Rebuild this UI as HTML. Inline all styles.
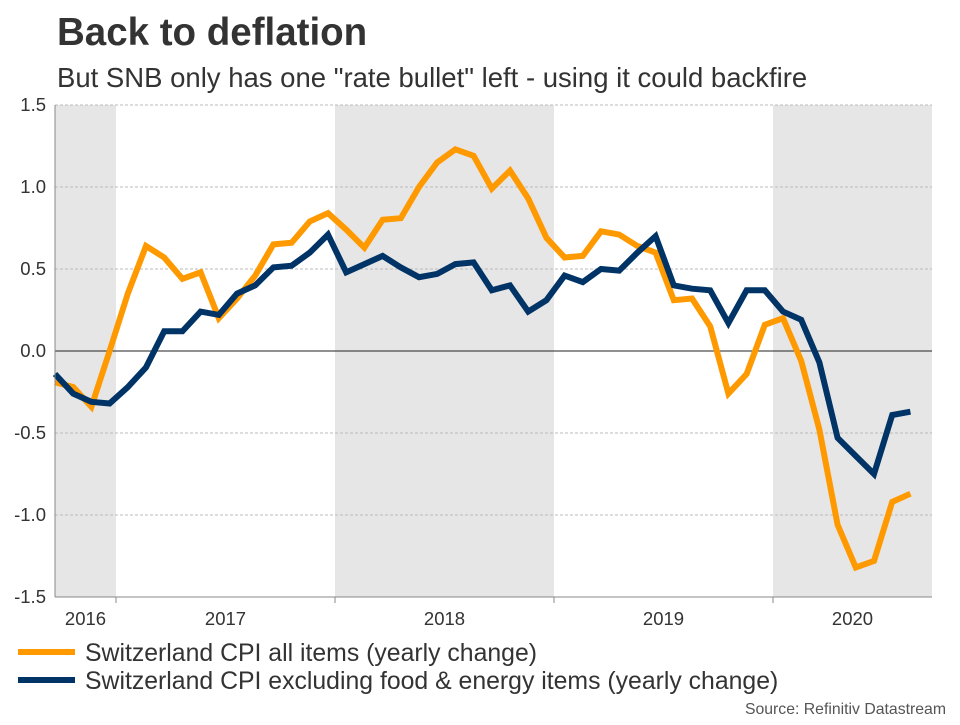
<!DOCTYPE html>
<html><head><meta charset="utf-8">
<style>
body{margin:0;background:#fff;}
svg text{font-family:"Liberation Sans",sans-serif;}
</style></head>
<body>
<svg width="960" height="720" xmlns="http://www.w3.org/2000/svg">
<text x="57" y="45" font-size="38.5" font-weight="bold" fill="#333">Back to deflation</text>
<text x="57" y="87" font-size="27.5" fill="#333">But SNB only has one "rate bullet" left - using it could backfire</text>
<g id="bands"></g>
<g id="grid"></g>
<g id="lines"></g>
<g id="axes"></g>
<g>
<line x1="18" y1="652" x2="75" y2="652" stroke="#FF9900" stroke-width="6"/>
<text x="85" y="661" font-size="24.8" fill="#333">Switzerland CPI all items (yearly change)</text>
<line x1="18" y1="680" x2="75" y2="680" stroke="#003366" stroke-width="6"/>
<text x="85" y="689" font-size="24.8" fill="#333">Switzerland CPI excluding food &amp; energy items (yearly change)</text>
</g>
<text x="946" y="714" font-size="15.8" fill="#555" text-anchor="end">Source: Refinitiv Datastream</text>
</svg>
<script>
const cpiAll = [-0.19,-0.22,-0.34,0.0,0.35,0.64,0.57,0.44,0.48,0.2,0.32,0.46,0.65,0.66,0.79,0.84,0.74,0.63,0.8,0.81,1.0,1.15,1.23,1.19,0.99,1.1,0.93,0.69,0.57,0.58,0.73,0.71,0.64,0.6,0.31,0.32,0.15,-0.26,-0.14,0.16,0.2,-0.06,-0.48,-1.06,-1.32,-1.28,-0.92,-0.87];
const cpiCore = [-0.14,-0.26,-0.31,-0.32,-0.22,-0.1,0.12,0.12,0.24,0.22,0.35,0.4,0.51,0.52,0.6,0.71,0.48,0.53,0.58,0.51,0.45,0.47,0.53,0.54,0.37,0.4,0.24,0.31,0.46,0.42,0.5,0.49,0.6,0.7,0.4,0.38,0.37,0.17,0.37,0.37,0.24,0.19,-0.07,-0.53,-0.64,-0.75,-0.39,-0.37];
const yTicks = [1.5,1.0,0.5,0.0,-0.5,-1.0,-1.5];
const yTickLabels = ["1.5","1.0","0.5","0.0","-0.5","-1.0","-1.5"];
const years = ["2016","2017","2018","2019","2020"];
const yearStartIdx = [3.34,15.34,27.34,39.34,51.34]; // index position of Jan 1 of each year

const L=55,R=932,T=105,B=597,step=18.2;
const xs=i=>L+i*step;
const ys=v=>T+(1.5-v)*(B-T)/3;
const NS="http://www.w3.org/2000/svg";
function mk(tag,attrs,parent){const e=document.createElementNS(NS,tag);for(const k in attrs)e.setAttribute(k,attrs[k]);parent.appendChild(e);return e;}
const bands=document.getElementById('bands'),grid=document.getElementById('grid'),lines=document.getElementById('lines'),axes=document.getElementById('axes');
const xYear=k=>116+(yearStartIdx[k]-yearStartIdx[0])*18.25;

[[0,L,xYear(0)],[2,xYear(1),xYear(2)],[4,xYear(3),R]].forEach(([k,a,b])=>{
  const r=mk('rect',{x:a,y:T,width:b-a,height:B-T,fill:'#E6E6E6'},bands);
  
  
});

yTicks.forEach((v,i)=>{
  if(v!==0){
    const g=mk('line',{x1:L,x2:R,y1:ys(v),y2:ys(v),stroke:'#bbb','stroke-dasharray':'3,2','stroke-width':1},grid);
    
    
  }
  const t=mk('text',{x:46,y:ys(v)+6,'font-size':18.5,fill:'#333','text-anchor':'end'},axes);
  t.textContent=yTickLabels[i];
  
  
});
const z=mk('line',{x1:L,x2:R,y1:ys(0),y2:ys(0),stroke:'#222','stroke-width':1},grid);



function path(data,color,name){
  const d=data.map((v,i)=>(i?'L':'M')+xs(i).toFixed(1)+','+ys(v).toFixed(1)).join('');
  const p=mk('path',{d:d,fill:'none',stroke:color,'stroke-width':6,'stroke-linejoin':'miter'},lines);
  
  
}
path(cpiAll,'#FF9900','cpi-all-line');
path(cpiCore,'#003366','cpi-core-line');

const ya=mk('line',{x1:L,x2:L,y1:T,y2:B,stroke:'#888','stroke-width':1},axes);


const xa=mk('line',{x1:L,x2:R,y1:B,y2:B,stroke:'#888','stroke-width':1},axes);


years.forEach((y,k)=>{
  const xb=xYear(k);
  if(xb<R){
    const tk=mk('line',{x1:xb,x2:xb,y1:B,y2:B+6,stroke:'#888'},axes);
    
    
  }
  const a=k===0?L:xYear(k-1), b=Math.min(R,xb);
  const t=mk('text',{x:(a+b)/2,y:B+28,'font-size':18.5,fill:'#333','text-anchor':'middle'},axes);
  t.textContent=y;
  
  
});
</script>
</body></html>
